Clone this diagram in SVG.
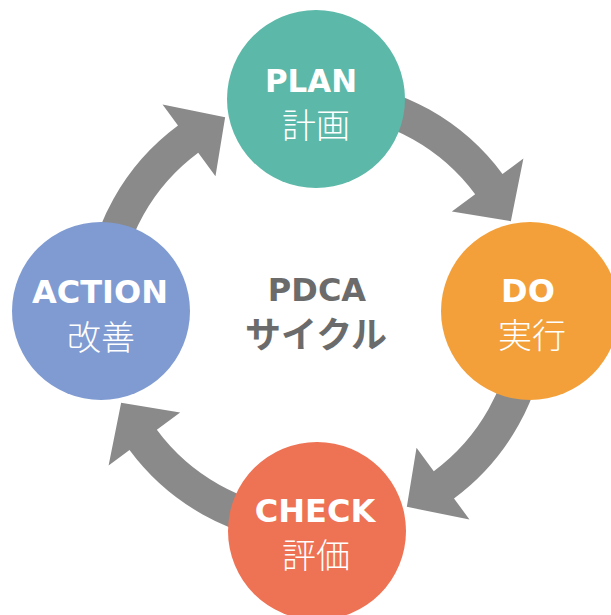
<svg xmlns="http://www.w3.org/2000/svg" xmlns:xlink="http://www.w3.org/1999/xlink" width="611" height="615" viewBox="0 0 611 615">
  <style>
    .bg { fill: #ffffff; }
    .arrow { fill: #8a8a8a; }
    .en { font-family: "DejaVu Sans", "Liberation Sans", sans-serif; font-weight: 700; font-size: 32px; fill: #ffffff; text-anchor: middle; }
    .ja { font-family: "Noto Sans CJK JP", "Noto Sans", sans-serif; font-weight: 300; font-size: 34px; fill: #ffffff; text-anchor: middle; }
    .center-en { font-family: "DejaVu Sans", "Liberation Sans", sans-serif; font-weight: 700; font-size: 32px; fill: #6b6b6b; text-anchor: middle; }
    .center-ja { font-family: "Noto Sans CJK JP", "Noto Sans", sans-serif; font-weight: 700; font-size: 36px; fill: #6b6b6b; text-anchor: middle; }
  </style>
  <defs>
    <!-- one curved arrow from the top stage to the right stage; the others are rotations about the ring centre -->
    <path id="cycle-arrow" d="M 336.22 80.88 A 232 232 0 0 1 502.50 174.00 L 523.40 158.54 L 510.86 221.14 L 451.85 211.48 L 475.16 194.23 A 198 198 0 0 0 333.26 114.75 Z"/>
  </defs>
  <rect class="bg" x="0" y="0" width="611" height="615"/>

  <g id="connectors">
    <use xlink:href="#cycle-arrow" href="#cycle-arrow" class="arrow"/>
    <use xlink:href="#cycle-arrow" href="#cycle-arrow" class="arrow" transform="rotate(90 316 312)"/>
    <use xlink:href="#cycle-arrow" href="#cycle-arrow" class="arrow" transform="rotate(180 316 312)"/>
    <use xlink:href="#cycle-arrow" href="#cycle-arrow" class="arrow" transform="rotate(270 316 312)"/>
  </g>

  <g id="plan">
    <circle cx="316" cy="99" r="89" fill="#5cb8a8"/>
    <text class="en" x="311" y="92" textLength="92" lengthAdjust="spacingAndGlyphs">PLAN</text>
    <text class="ja" x="316" y="138">計画</text>
  </g>

  <g id="do">
    <circle cx="530" cy="311" r="89" fill="#f3a03a"/>
    <text class="en" x="528" y="302">DO</text>
    <text class="ja" x="532" y="348">実行</text>
  </g>

  <g id="check">
    <circle cx="317" cy="531" r="89" fill="#ee7254"/>
    <text class="en" x="315" y="522">CHECK</text>
    <text class="ja" x="316" y="568">評価</text>
  </g>

  <g id="action">
    <circle cx="101" cy="311" r="89" fill="#7f9bd2"/>
    <text class="en" x="100" y="303">ACTION</text>
    <text class="ja" x="101" y="350">改善</text>
  </g>

  <g id="title">
    <text class="center-en" x="317" y="301">PDCA</text>
    <text class="center-ja" x="316" y="348">サイクル</text>
  </g>
</svg>
